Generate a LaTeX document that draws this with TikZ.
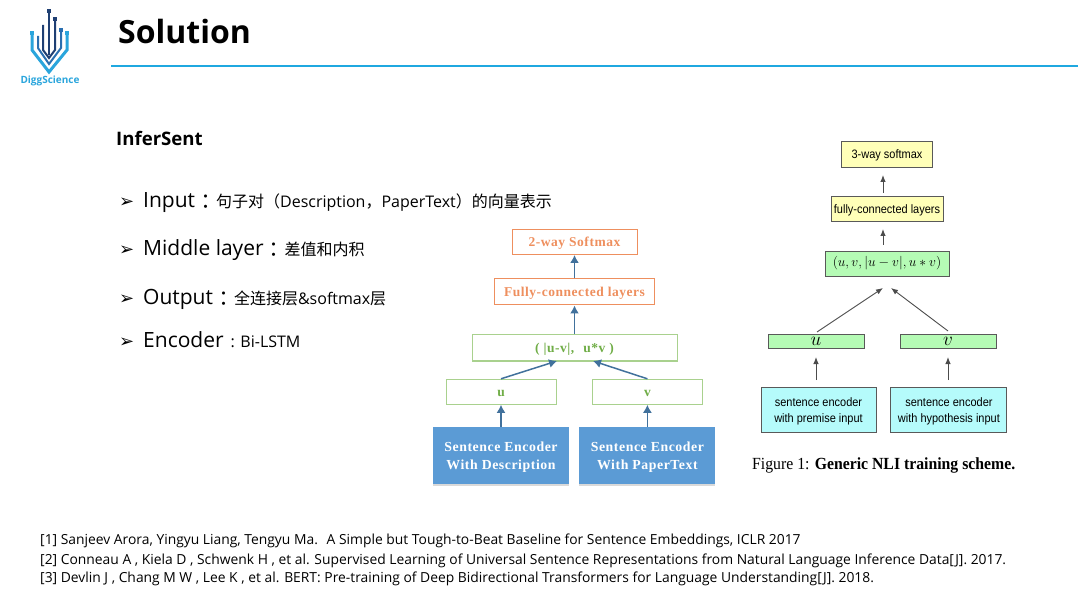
\documentclass[tikz,border=0pt]{standalone}
\usepackage{fontspec}
\setmainfont{Open Sans}
\newfontfamily\cjk{Noto Sans CJK SC}
\newfontfamily\cjkc{Noto Sans CJK TC}
\newfontfamily\sym{DejaVu Sans}
\newfontfamily\figserif[FakeStretch=0.927]{Liberation Serif}
\newfontfamily\figspaced[LetterSpace=4]{Liberation Serif}
\newfontfamily\figsans[FakeStretch=0.9]{Liberation Sans}
\usetikzlibrary{positioning, shadows, arrows.meta}
\definecolor{rulecol}{HTML}{1FA8E0}
\definecolor{logodark}{HTML}{1F3F73}
\definecolor{logomid}{HTML}{2A6FB0}
\definecolor{logolight}{HTML}{2AA5DC}
\definecolor{orangecol}{HTML}{EE8F5E}
\definecolor{greencol}{HTML}{A9D18E}
\definecolor{greentext}{HTML}{70AD47}
\definecolor{arrowcol}{HTML}{41719C}
\definecolor{enccol}{HTML}{5B9BD5}
\definecolor{nliyellow}{HTML}{FFFFB8}
\definecolor{nligreen}{HTML}{B5FBB5}
\definecolor{nlicyan}{HTML}{B5FBFB}
\newcommand{\tstrut}{\rule{0pt}{12pt}}
\newcommand{\bulletmark}{\makebox[24pt][l]{\sym\fontsize{18}{18}\selectfont ➢}}
\newcommand{\smalltxt}[1]{{\fontsize{16}{20}\selectfont #1}}
\newcommand{\smallcjk}[1]{{\cjk\fontsize{16}{20}\selectfont #1}}
\newcommand{\widecolon}{\raisebox{-2pt}{\cjkc ：}}
\begin{document}
\begin{tikzpicture}[x=1pt, y=-1pt,
     node distance = 24pt and 10pt,
        txt/.style = {anchor=west, inner sep=0pt},
     bullet/.style = {txt, font=\fontsize{21}{25}\selectfont},
        ref/.style = {txt, font=\fontsize{13.85}{16}\selectfont},
        obox/.style = {rectangle, draw=orangecol, text=orangecol, line width=1pt, font=\figspaced\bfseries\fontsize{13.5}{15}\selectfont, inner sep=0pt, text height=10pt, text depth=1pt},
        gbox/.style = {rectangle, draw=greencol, text=greentext, line width=1pt, font=\figspaced\bfseries\fontsize{13.5}{15}\selectfont, inner sep=0pt, minimum height=25pt, text height=10pt, text depth=1pt},
        ebox/.style = {rectangle, fill=enccol, text=white, align=center, minimum width=136pt, minimum height=57pt, inner sep=0pt, font=\figspaced\bfseries\fontsize{13.8}{18}\selectfont, drop shadow={shadow xshift=0pt, shadow yshift=-1.5pt, opacity=0.3}},
        arr/.style = {-{Latex[length=8pt,width=9pt]}, arrowcol, line width=1.5pt},
        nbox/.style = {rectangle, draw=black!65, line width=0.9pt, inner sep=0pt, font=\figsans\fontsize{12.2}{16}\selectfont, align=center},
        nmath/.style = {nbox, fill=nligreen},
        nyellow/.style = {nbox, fill=nliyellow, text height=10pt, text depth=1pt},
        narr/.style = {-{Latex[length=7pt,width=5.5pt]}, black!70, line width=0.9pt},
        dot/.style = {rectangle, minimum size=3.5pt, inner sep=0pt}
                        ]
\useasboundingbox (0,0) rectangle (1080,604);
% logo
\draw[logolight, line width=3pt] (32,33) -- (32,50) -- (49,72) -- (67,50) -- (67,33);
\draw[logomid, line width=2pt] (38,36) -- (38,48) -- (49,64) -- (61,48) -- (61,30);
\draw[logodark, line width=2pt] (43,25) -- (43,50) -- (49,58) -- (55,50) -- (55,19);
\draw[logodark, line width=2pt] (49,11) -- (49,55);
\node (dotA) [dot, fill=logodark] at (49,11) {};
\node (dotB) [dot, fill=logodark] at (55,19) {};
\node (dotC) [dot, fill=logomid] at (61,30) {};
\node (dotD) [dot, fill=logolight] at (67,33) {};
\node (dotE) [dot, fill=logolight] at (32,33) {};
\node (logotext) at (50,81) {\color{logolight}\bfseries\fontsize{10}{12}\selectfont DiggScience};
% header
\node (title) [txt] at (118,32) {\bfseries\fontsize{32}{40}\selectfont Solution};
\coordinate (ruleL) at (111,66);
\coordinate (ruleR) at (1078,66);
\draw[rulecol, line width=2pt] (ruleL) -- (ruleR);
\node (infersent) [txt] at (116,138) {\bfseries\fontsize{18.6}{23}\selectfont InferSent};
% bullet list
\node (b1) [bullet] at (119,203) {\bulletmark Input\widecolon\smallcjk{句子对（}\smalltxt{Description}\smallcjk{，}\smalltxt{PaperText}\smallcjk{）的向量表示}};
\node (b2) [bullet] at (119,250) {\bulletmark Middle layer\widecolon\smallcjk{差值和内积}};
\node (b3) [bullet] at (119,299) {\bulletmark Output\widecolon\smallcjk{全连接层}\smalltxt{\&softmax}\smallcjk{层}};
\node (b4) [bullet] at (119,340) {\bulletmark Encoder\hspace{7pt}\smalltxt{: Bi-LSTM}};
% left diagram
\node (encd) [ebox] at (501,455.5) {\tstrut Sentence Encoder\\With Description};
\node (encp) [ebox, right =of encd] {\tstrut Sentence Encoder\\With PaperText};
\node (uvecl) [gbox, minimum width=110pt, above =22pt of encd] {u};
\node (vvecl) [gbox, minimum width=110pt, above =22pt of encp] {v};
\node (diff) [gbox, minimum width=205pt, minimum height=26pt] at (574.5,348) {( |u-v|,\hspace{5pt} u*v )};
\node (fully) [obox, minimum width=160pt, minimum height=26pt, above =29pt of diff] {Fully-connected layers};
\node (softl) [obox, minimum width=125pt, minimum height=25pt, above =23.5pt of fully] {2-way Softmax};
\coordinate (diffL) at (557,361);
\coordinate (diffR) at (593,361);
\draw[arr] (encd) -- (uvecl);
\draw[arr] (encp) -- (vvecl);
\draw[arr] (uvecl.north) -- (diffL);
\draw[arr] (vvecl.north) -- (diffR);
\draw[arr] (diff) -- (fully);
\draw[arr] (fully) -- (softl);
% right diagram
\node (encprem) [nbox, fill=nlicyan, minimum width=115pt, minimum height=45pt] at (818.5,409.5) {\tstrut sentence encoder\\with premise input};
\node (enchyp) [nbox, fill=nlicyan, minimum width=116pt, minimum height=45pt, right =14pt of encprem] {\tstrut sentence encoder\\with hypothesis input};
\node (uvecr) [nmath, minimum width=96pt, minimum height=14pt] at (816,341) {\scalebox{1.6}{$u$}};
\node (vvecr) [nmath, minimum width=96pt, minimum height=14pt] at (948,341) {\scalebox{1.6}{$v$}};
\node (concat) [nmath, minimum width=124pt, minimum height=25pt] at (887,263.5) {\scalebox{1.13}{$(u, v, |u-v|, u*v)$}};
\node (fullyr) [nyellow, minimum width=112pt, minimum height=25pt, above =29pt of concat] {fully-connected layers};
\node (softr) [nyellow, minimum width=91pt, minimum height=26pt, above =28pt of fullyr] {3-way softmax};
\node (caption) [txt, font=\figserif\fontsize{17}{20}\selectfont] at (752,465) {Figure 1: \textbf{Generic NLI training scheme.}};
\coordinate (mergeL) at (883,288);
\coordinate (mergeR) at (891,288);
\coordinate (inL) at (816,380);
\coordinate (inR) at (948,380);
\coordinate (headL) at (816,357);
\coordinate (headR) at (948,357);
\coordinate (fromu) at (817,332);
\coordinate (fromv) at (948,331);
\coordinate (upA) at (883,245);
\coordinate (upAh) at (883,229);
\coordinate (upB) at (883,193);
\coordinate (upBh) at (883,175);
\draw[narr] (inL) -- (headL);
\draw[narr] (inR) -- (headR);
\draw[narr] (fromu) -- (mergeL);
\draw[narr] (fromv) -- (mergeR);
\draw[narr] (upA) -- (upAh);
\draw[narr] (upB) -- (upBh);
% references
\node (ref1) [ref] at (40,541) {[1] Sanjeev Arora, Yingyu Liang, Tengyu Ma.\hspace{4pt} A Simple but Tough-to-Beat Baseline for Sentence Embeddings, ICLR 2017};
\node (ref2) [ref] at (40,561) {[2] Conneau A , Kiela D , Schwenk H , et al. Supervised Learning of Universal Sentence Representations from Natural Language Inference Data[J]. 2017.};
\node (ref3) [ref] at (40,579) {[3] Devlin J , Chang M W , Lee K , et al. BERT: Pre-training of Deep Bidirectional Transformers for Language Understanding[J]. 2018.};
\end{tikzpicture}
\end{document}
